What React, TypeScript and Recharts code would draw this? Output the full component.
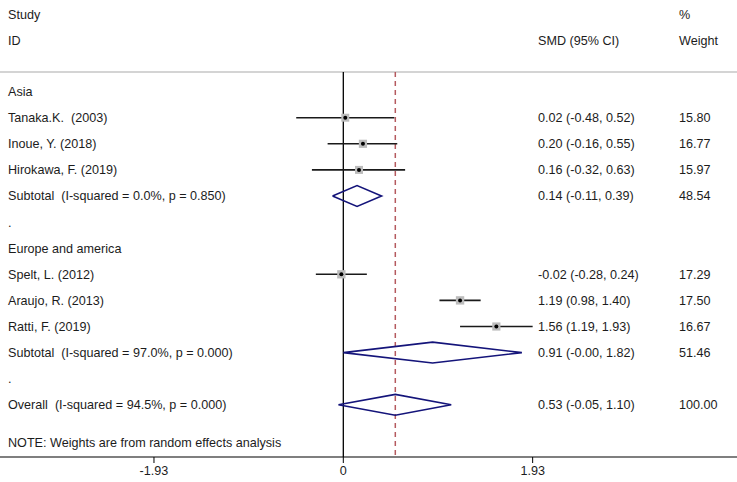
import React from "react";
import {
  ComposedChart,
  XAxis,
  YAxis,
  Scatter,
  ReferenceLine,
} from "recharts";

// ---- data ----
const studyLabels = [
  "Tanaka.K.  (2003)",
  "Inoue, Y. (2018)",
  "Hirokawa, F. (2019)",
  "Spelt, L. (2012)",
  "Araujo, R. (2013)",
  "Ratti, F. (2019)",
];
const studyRows = [1, 2, 3, 7, 8, 9];
const studySmd = [0.02, 0.2, 0.16, -0.02, 1.19, 1.56];
const studyLo = [-0.48, -0.16, -0.32, -0.28, 0.98, 1.19];
const studyHi = [0.52, 0.55, 0.63, 0.24, 1.4, 1.93];
const studyWeight = [15.8, 16.77, 15.97, 17.29, 17.5, 16.67];

const pooledLabels = [
  "Subtotal  (I-squared = 0.0%, p = 0.850)",
  "Subtotal  (I-squared = 97.0%, p = 0.000)",
  "Overall  (I-squared = 94.5%, p = 0.000)",
];
const pooledRows = [4, 10, 12];
const pooledSmd = [0.14, 0.91, 0.53];
const pooledLo = [-0.11, -0, -0.05];
const pooledHi = [0.39, 1.82, 1.1];
const pooledWeight = [48.54, 51.46, 100.0];

const groupLabels = ["Asia", "Europe and america"];
const groupRows = [0, 6];
const spacerRows = [5, 11];
const noteText = "NOTE: Weights are from random effects analysis";
const noteRow = 13.46;

const headerLeft = ["Study", "ID"];
const headerMid = ["", "SMD (95% CI)"];
const headerRight = ["%", "Weight"];
const headerRows = [-2.97, -1.94];

const overallEffect = 0.53;
const xTicks = [-1.93, 0, 1.93];
const xDomain = [-3.4995, 4.013];
const yDomain = [-3.51, 14.0];
const dividerRow = -0.75;

// ---- helpers ----
const fmt = (v: number) => (Object.is(v, -0) ? "-0.00" : v.toFixed(2));

type RowInfo = { x: number; y: number; left: string; mid: string; right: string };
const textRows: RowInfo[] = [];
headerRows.forEach((r, i) =>
  textRows.push({ x: 0, y: r, left: headerLeft[i], mid: headerMid[i], right: headerRight[i] })
);
groupRows.forEach((r, i) => textRows.push({ x: 0, y: r, left: groupLabels[i], mid: "", right: "" }));
spacerRows.forEach((r) => textRows.push({ x: 0, y: r, left: ".", mid: "", right: "" }));
studyRows.forEach((r, i) =>
  textRows.push({
    x: 0,
    y: r,
    left: studyLabels[i],
    mid: `${fmt(studySmd[i])} (${fmt(studyLo[i])}, ${fmt(studyHi[i])})`,
    right: studyWeight[i].toFixed(2),
  })
);
pooledRows.forEach((r, i) =>
  textRows.push({
    x: 0,
    y: r,
    left: pooledLabels[i],
    mid: `${fmt(pooledSmd[i])} (${fmt(pooledLo[i])}, ${fmt(pooledHi[i])})`,
    right: pooledWeight[i].toFixed(2),
  })
);
textRows.push({ x: 0, y: noteRow, left: noteText, mid: "", right: "" });

const studyData = studyRows.map((r, i) => ({ x: studySmd[i], y: r, w: studyWeight[i] }));
const diamondHalf = 0.4;
const diamonds = pooledRows.map((r, i) => [
  { x: pooledLo[i], y: r },
  { x: pooledSmd[i], y: r - diamondHalf },
  { x: pooledHi[i], y: r },
  { x: pooledSmd[i], y: r + diamondHalf },
  { x: pooledLo[i], y: r },
]);

const FONT = "'Liberation Sans', Arial, sans-serif";
const TEXT = "#1c1c1c";
const FS = 12.6;

const RowText = (props: any) => {
  const { cy, payload } = props;
  const common = {
    y: cy,
    dy: "0.35em",
    fontSize: FS,
    fontFamily: FONT,
    fill: TEXT,
    style: { whiteSpace: "pre" as const },
  };
  return (
    <g>
      {payload.left && (
        <text x={8} textAnchor="start" {...common}>
          {payload.left}
        </text>
      )}
      {payload.mid && (
        <text x={538} textAnchor="start" {...common}>
          {payload.mid}
        </text>
      )}
      {payload.right && (
        <text x={679} textAnchor="start" {...common}>
          {payload.right}
        </text>
      )}
    </g>
  );
};

const AxisTick = (props: any) => {
  const { x, y, payload } = props;
  const v = payload.value as number;
  return (
    <text
      x={x}
      y={y}
      dy="0.71em"
      textAnchor="middle"
      fontSize={FS}
      fontFamily={FONT}
      fill={TEXT}
    >
      {v === 0 ? "0" : v.toFixed(2)}
    </text>
  );
};

const StudyMarker = (props: any) => {
  const { cx, cy, payload } = props;
  const s = Math.sqrt(payload.w) * 2;
  return (
    <g>
      <rect x={cx - s / 2} y={cy - s / 2} width={s} height={s} fill="#bcbcbc" />
      <circle cx={cx} cy={cy} r={2} fill="#000" />
    </g>
  );
};

const NoShape = () => <g />;

export default function App() {
  return (
    <div style={{ position: "absolute", left: 0, top: 0, background: "#fff" }}>
      <ComposedChart
        width={737}
        height={482}
        margin={{ top: 0, right: 0, bottom: 0, left: 0 }}
      >
        <XAxis
          type="number"
          dataKey="x"
          domain={xDomain}
          ticks={xTicks}
          allowDataOverflow
          height={25}
          axisLine={{ stroke: "#000", strokeWidth: 1.2 }}
          tickLine={{ stroke: "#000" }}
          tickSize={6}
          tickMargin={3}
          tick={<AxisTick />}
        />
        <YAxis
          type="number"
          dataKey="y"
          domain={yDomain}
          reversed
          allowDataOverflow
          hide
        />
        <ReferenceLine y={dividerRow} stroke="#d4d4d4" strokeWidth={2} />
        <ReferenceLine
          segment={[
            { x: 0, y: dividerRow },
            { x: 0, y: yDomain[1] },
          ]}
          stroke="#000"
          strokeWidth={1.3}
        />
        <ReferenceLine
          segment={[
            { x: overallEffect, y: dividerRow },
            { x: overallEffect, y: yDomain[1] },
          ]}
          stroke="#b55a5f"
          strokeWidth={1.5}
          strokeDasharray="5 4"
        />
        {studyRows.map((r, i) => (
          <ReferenceLine
            key={"ci" + i}
            segment={[
              { x: studyLo[i], y: r },
              { x: studyHi[i], y: r },
            ]}
            stroke="#1a1a1a"
            strokeWidth={1.6}
          />
        ))}
        <Scatter data={textRows} shape={<RowText />} isAnimationActive={false} />
        <Scatter data={studyData} shape={<StudyMarker />} isAnimationActive={false} />
        {diamonds.map((d, i) => (
          <Scatter
            key={"dm" + i}
            data={d}
            line={{ stroke: "#14147a", strokeWidth: 1.6, fill: "none" }}
            lineType="joint"
            shape={<NoShape />}
            isAnimationActive={false}
          />
        ))}
      </ComposedChart>
    </div>
  );
}
